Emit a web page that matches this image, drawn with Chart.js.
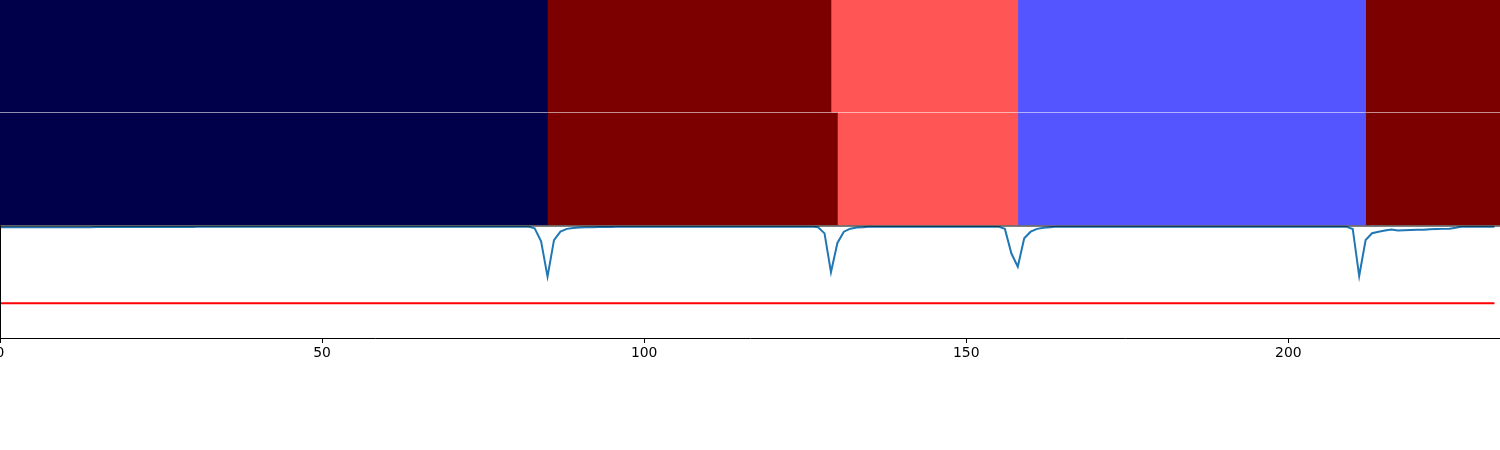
<!DOCTYPE html>
<html>
<head>
<meta charset="utf-8">
<script src="https://cdn.jsdelivr.net/npm/chart.js@4.4.0/dist/chart.umd.min.js"></script>
<style>
  html, body { margin: 0; padding: 0; background: #ffffff; overflow: hidden; width: 1500px; height: 450px; }
  canvas { position: absolute; left: -50px; top: 0; }
</style>
</head>
<body>
<canvas id="segs" width="1600" height="226"></canvas>
<canvas id="prob" width="1600" height="450"></canvas>
<script>
// ---- data ----
const rowLabels = ['predicted', 'ground truth'];
const classColors = ['#00004a', '#5555ff', '#ff5555', '#7c0000'];
const row1Bounds = [0, 85, 129, 158, 212, 233];
const row1Classes = [0, 3, 2, 1, 3];
const row2Bounds = [0, 85, 130, 158, 212, 233];
const row2Classes = [0, 3, 2, 1, 3];

const xTickValues = [0, 50, 100, 150, 200];
const xMin = 0;
const xMax = 232.86;

const probValues = [
  0.985, 0.985, 0.985, 0.985, 0.985, 0.985, 0.985, 0.985, 0.985, 0.985,
  0.985, 0.985, 0.985, 0.985, 0.985, 0.987, 0.987, 0.987, 0.987, 0.987,
  0.987, 0.987, 0.987, 0.987, 0.987, 0.987, 0.987, 0.987, 0.987, 0.987,
  0.987, 0.99, 0.99, 0.99, 0.99, 0.99, 0.99, 0.99, 0.99, 0.99,
  0.99, 0.99, 0.99, 0.99, 0.99, 0.99, 0.99, 0.99, 0.99, 0.99,
  0.99, 0.99, 0.99, 0.99, 0.99, 0.99, 0.99, 0.99, 0.99, 0.99,
  0.99, 0.99, 0.99, 0.99, 0.99, 0.99, 0.99, 0.99, 0.99, 0.99,
  0.99, 0.99, 0.99, 0.99, 0.99, 0.99, 0.99, 0.99, 0.99, 0.99,
  0.99, 0.99, 0.99, 0.975, 0.86, 0.545, 0.87, 0.945, 0.97, 0.978,
  0.982, 0.984, 0.985, 0.986, 0.986, 0.986, 0.99, 0.99, 0.99, 0.99,
  0.99, 0.99, 0.99, 0.99, 0.99, 0.99, 0.99, 0.99, 0.99, 0.99,
  0.99, 0.99, 0.99, 0.99, 0.99, 0.99, 0.99, 0.99, 0.99, 0.99,
  0.99, 0.99, 0.99, 0.99, 0.99, 0.99, 0.99, 0.985, 0.93, 0.585,
  0.845, 0.945, 0.972, 0.982, 0.985, 0.99, 0.99, 0.99, 0.99, 0.99,
  0.99, 0.99, 0.99, 0.99, 0.99, 0.99, 0.99, 0.99, 0.99, 0.99,
  0.99, 0.99, 0.99, 0.99, 0.99, 0.99, 0.97, 0.753, 0.634, 0.886,
  0.945, 0.97, 0.98, 0.985, 0.99, 0.99, 0.99, 0.99, 0.99, 0.99,
  0.99, 0.99, 0.99, 0.99, 0.99, 0.99, 0.99, 0.99, 0.99, 0.99,
  0.99, 0.99, 0.99, 0.99, 0.99, 0.99, 0.99, 0.99, 0.99, 0.99,
  0.99, 0.99, 0.99, 0.99, 0.99, 0.99, 0.99, 0.99, 0.99, 0.99,
  0.99, 0.99, 0.99, 0.99, 0.99, 0.99, 0.99, 0.99, 0.99, 0.99,
  0.969, 0.551, 0.871, 0.931, 0.945, 0.955, 0.964, 0.955, 0.958, 0.96,
  0.962, 0.963, 0.966, 0.968, 0.97, 0.972, 0.98, 0.99, 0.99, 0.99,
  0.99, 0.99, 0.99
];
const thresholdValue = [0.31];

// ---- build ----
Chart.defaults.font.family = "'DejaVu Sans', sans-serif";
Chart.defaults.color = '#000000';

const segDatasets = [];
for (let k = 0; k < row1Classes.length; k++) {
  segDatasets.push({
    data: [[row1Bounds[k], row1Bounds[k + 1]], [row2Bounds[k], row2Bounds[k + 1]]],
    backgroundColor: [classColors[row1Classes[k]], classColors[row2Classes[k]]],
    borderWidth: 0,
    barThickness: 112,
    grouped: false,
    clip: false
  });
}

new Chart(document.getElementById('segs'), {
  type: 'bar',
  data: { labels: rowLabels, datasets: segDatasets },
  options: {
    indexAxis: 'y',
    responsive: false,
    devicePixelRatio: 1,
    animation: false,
    layout: { padding: { left: 50, right: 50, top: 56, bottom: 57 } },
    plugins: { legend: { display: false }, tooltip: { enabled: false } },
    scales: {
      x: { type: 'linear', min: xMin, max: xMax, display: false },
      y: { type: 'category', display: false, offset: false }
    }
  }
});

const spinePlugin = {
  id: 'spines',
  afterDraw(chart) {
    const a = chart.chartArea, ctx = chart.ctx;
    ctx.save();
    ctx.strokeStyle = '#000000';
    ctx.lineWidth = 1;
    ctx.beginPath();
    ctx.moveTo(a.left, Math.round(a.top) - 0.5 + 0.5);
    ctx.lineTo(a.right, Math.round(a.top) - 0.5 + 0.5);
    ctx.moveTo(a.left + 0.5, a.top);
    ctx.lineTo(a.left + 0.5, a.bottom);
    ctx.stroke();
    ctx.restore();
  }
};

new Chart(document.getElementById('prob'), {
  type: 'line',
  data: {
    datasets: [
      {
        data: probValues.map((v, i) => ({ x: i, y: v })),
        borderColor: '#1f77b4',
        borderWidth: 2,
        pointRadius: 0,
        tension: 0,
        fill: false
      },
      {
        data: [{ x: 0, y: thresholdValue[0] }, { x: probValues.length - 1, y: thresholdValue[0] }],
        borderColor: '#ff0000',
        borderWidth: 2,
        pointRadius: 0,
        tension: 0,
        fill: false
      }
    ]
  },
  options: {
    responsive: false,
    devicePixelRatio: 1,
    animation: false,
    layout: { padding: { left: 50, right: 50, top: 225.5, bottom: 0 } },
    plugins: { legend: { display: false }, tooltip: { enabled: false } },
    scales: {
      x: {
        type: 'linear',
        min: xMin,
        max: xMax,
        afterBuildTicks(scale) { scale.ticks = xTickValues.map(v => ({ value: v })); },
        afterFit(scale) { scale.height = 112; },
        grid: { display: true, drawOnChartArea: false, drawTicks: true, tickLength: 5, color: '#000000', lineWidth: 1 },
        border: { display: true, color: '#000000', width: 1 },
        ticks: { maxRotation: 0, padding: 2, color: '#000000', font: { size: 13.9 } }
      },
      y: { type: 'linear', min: 0, max: 1, display: false }
    }
  },
  plugins: [spinePlugin]
});
</script>
</body>
</html>
